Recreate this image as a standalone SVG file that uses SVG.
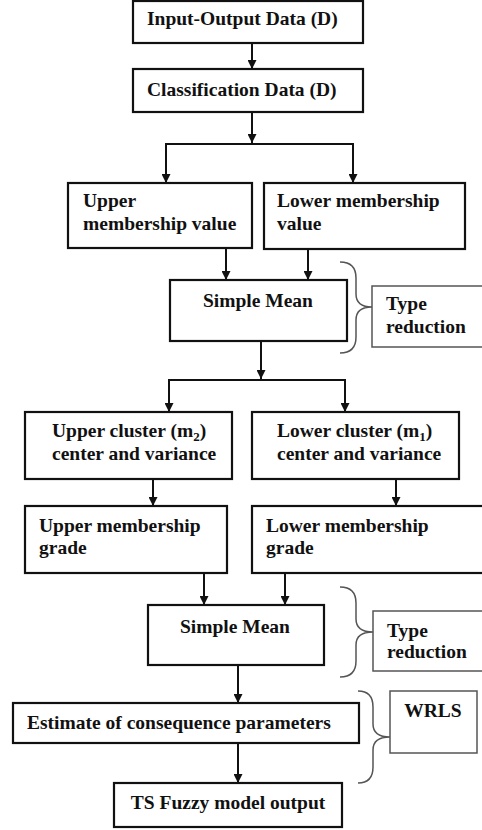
<svg xmlns="http://www.w3.org/2000/svg" width="482" height="830" viewBox="0 0 482 830">
<style>
.box{fill:#fff;stroke:#111;stroke-width:2.2}
.side{fill:#fff;stroke:#555;stroke-width:1.5}
.brace{fill:none;stroke:#555;stroke-width:1.5}
.t{font-family:"Liberation Serif","Times New Roman",serif;font-weight:bold;font-size:19.5px;fill:#111}
.c{text-anchor:middle}
.con{fill:none;stroke:#111;stroke-width:2}
</style>
<defs>
<marker id="arr" viewBox="0 0 10 10" refX="10" refY="5" markerWidth="9" markerHeight="9" markerUnits="userSpaceOnUse" orient="auto">
<path d="M0,0 L10,5 L0,10 z" fill="#111"/>
</marker>
</defs>
<rect width="482" height="830" fill="#fff"/>
<g id="connectors">
<line class="con" x1="252" y1="43" x2="252" y2="69" marker-end="url(#arr)"/>
<line class="con" x1="252" y1="112" x2="252" y2="143" marker-end="url(#arr)"/>
<polyline class="con" points="166,182 166,144 353,144 353,182"/>
<line class="con" x1="166" y1="150" x2="166" y2="183" marker-end="url(#arr)"/>
<line class="con" x1="353" y1="150" x2="353" y2="183" marker-end="url(#arr)"/>
<line class="con" x1="226" y1="248" x2="226" y2="280" marker-end="url(#arr)"/>
<line class="con" x1="308" y1="249" x2="308" y2="280" marker-end="url(#arr)"/>
<line class="con" x1="261" y1="341" x2="261" y2="379" marker-end="url(#arr)"/>
<polyline class="con" points="169,412 169,380 345,380 345,412"/>
<line class="con" x1="169" y1="386" x2="169" y2="412" marker-end="url(#arr)"/>
<line class="con" x1="345" y1="386" x2="345" y2="412" marker-end="url(#arr)"/>
<line class="con" x1="153" y1="479" x2="153" y2="506" marker-end="url(#arr)"/>
<line class="con" x1="396" y1="479" x2="396" y2="506" marker-end="url(#arr)"/>
<line class="con" x1="204" y1="573" x2="204" y2="605" marker-end="url(#arr)"/>
<line class="con" x1="285" y1="573" x2="285" y2="605" marker-end="url(#arr)"/>
<line class="con" x1="238" y1="665" x2="238" y2="703" marker-end="url(#arr)"/>
<line class="con" x1="238" y1="743" x2="238" y2="783" marker-end="url(#arr)"/>
</g>
<g id="n1"><rect class="box" x="133" y="1" width="230" height="42"/><text class="t" x="147" y="25">Input-Output Data (D)</text></g>
<g id="n2"><rect class="box" x="133" y="69" width="230" height="43"/><text class="t" x="147" y="96">Classification Data (D)</text></g>
<g id="n3"><rect class="box" x="68" y="183" width="184" height="65"/><text class="t" x="83" y="207">Upper</text><text class="t" x="83" y="230">membership value</text></g>
<g id="n4"><rect class="box" x="264" y="183" width="201" height="66"/><text class="t" x="277" y="207">Lower membership</text><text class="t" x="277" y="230">value</text></g>
<g id="n5"><rect class="box" x="170" y="280" width="177" height="61"/><text class="t c" x="258" y="307">Simple Mean</text></g>
<g id="brace1"><path class="brace" d="M340,262 Q356,262 356,278 L356,294 Q356,307 372,307 Q356,307 356,320 L356,337 Q356,353 340,353"/></g>
<g id="tr1"><rect class="side" x="372" y="286" width="115" height="61"/><text class="t" x="386" y="310">Type</text><text class="t" x="386" y="333">reduction</text></g>
<g id="n6"><rect class="box" x="25" y="412" width="207" height="67"/><text class="t" x="52" y="437">Upper cluster (m<tspan font-size="13" dy="4">2</tspan><tspan dy="-4">)</tspan></text><text class="t" x="52" y="460">center and variance</text></g>
<g id="n7"><rect class="box" x="252" y="412" width="207" height="67"/><text class="t" x="277" y="437">Lower cluster (m<tspan font-size="13" dy="4">1</tspan><tspan dy="-4">)</tspan></text><text class="t" x="277" y="460">center and variance</text></g>
<g id="n8"><rect class="box" x="25" y="506" width="202" height="67"/><text class="t" x="39" y="532">Upper membership</text><text class="t" x="39" y="554">grade</text></g>
<g id="n9"><rect class="box" x="252" y="506" width="235" height="67"/><text class="t" x="266" y="532">Lower membership</text><text class="t" x="266" y="554">grade</text></g>
<g id="n10"><rect class="box" x="148" y="605" width="176" height="60"/><text class="t c" x="235" y="633">Simple Mean</text></g>
<g id="brace2"><path class="brace" d="M340,587 Q356,587 356,603 L356,619 Q356,632 373,632 Q356,632 356,645 L356,661 Q356,677 340,677"/></g>
<g id="tr2"><rect class="side" x="373" y="611" width="115" height="60"/><text class="t" x="387" y="637">Type</text><text class="t" x="387" y="658">reduction</text></g>
<g id="n11"><rect class="box" x="13" y="703" width="346" height="40"/><text class="t" x="27" y="729">Estimate of consequence parameters</text></g>
<g id="brace3"><path class="brace" d="M358,691 Q373,691 373,707 L373,724 Q373,737 390,737 Q373,737 373,750 L373,767 Q373,783 358,783"/></g>
<g id="wrls"><rect class="side" x="390" y="691" width="87" height="62"/><text class="t c" x="433" y="717">WRLS</text></g>
<g id="n12"><rect class="box" x="114" y="783" width="228" height="44"/><text class="t c" x="228" y="809">TS Fuzzy model output</text></g>
</svg>
